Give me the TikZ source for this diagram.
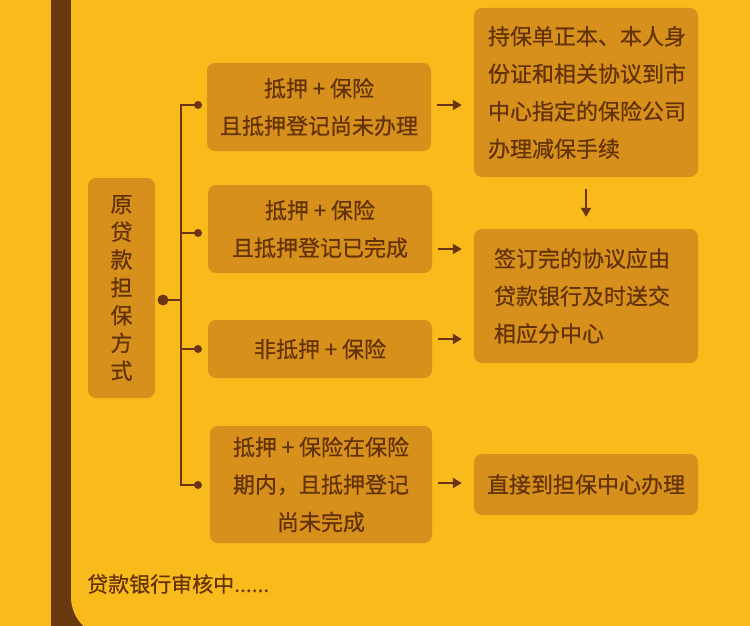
\documentclass[tikz,border=0pt]{standalone}
\usepackage{fontspec}
\setmainfont{Noto Sans CJK SC}[FakeBold=0.6]
\usetikzlibrary{arrows.meta}
\definecolor{bg}{HTML}{F9BA1B}
\definecolor{boxc}{HTML}{D6901B}
\definecolor{txt}{HTML}{633209}
\definecolor{bar}{HTML}{6A3912}
\definecolor{ln}{HTML}{6A3510}
\tikzset{
  box/.style={fill=boxc, rounded corners=8pt, text=txt, inner sep=0pt,
    font=\fontsize{22}{37.5}\selectfont, align=center},
  rbox/.style={box, align=left},
  vbox/.style={box, font=\fontsize{22}{27.8}\selectfont},
  conn/.style={draw=ln, line width=2pt},
  arr/.style={conn, -{Triangle[length=9pt,width=10pt]}},
  dotnode/.style={circle, fill=ln, inner sep=0pt, minimum size=8pt},
  bigdot/.style={circle, fill=ln, inner sep=0pt, minimum size=11pt},
}
\begin{document}
\begin{tikzpicture}[x=1pt,y=-1pt]
\useasboundingbox (0,0) rectangle (750,626);
\fill[bg] (0,0) rectangle (750,626);
\fill[bar] (51,0) rectangle (130,626);
\fill[bg, rounded corners=40pt] (71,-60) rectangle (800,637);

% left box
\node[vbox, minimum width=67pt, minimum height=220pt] (src) at (121.5,288) {原\\贷\\款\\担\\保\\方\\式};

% middle boxes
\node[box, minimum width=224pt, minimum height=88pt] (b1) at (319,107) {抵押 + 保险\\且抵押登记尚未办理};
\node[box, minimum width=224pt, minimum height=88pt] (b2) at (320,229) {抵押 + 保险\\且抵押登记已完成};
\node[box, minimum width=224pt, minimum height=58pt] (b3) at (320,349) {非抵押 + 保险};
\node[box, minimum width=222pt, minimum height=117pt] (b4) at (321,484.5) {抵押 + 保险在保险\\期内，且抵押登记\\尚未完成};

% right boxes
\node[rbox, text width=196pt, inner xsep=14pt, minimum height=169pt] (rA) at (586,92.5) {持保单正本、本人身\\份证和相关协议到市\\中心指定的保险公司\\办理减保手续};
\node[rbox, text width=184pt, inner xsep=20pt, minimum height=134pt] (rB) at (586,296) {签订完的协议应由\\贷款银行及时送交\\相应分中心};
\node[box, minimum width=224pt, minimum height=61pt] (rC) at (586,484.5) {直接到担保中心办理};

% tree
\node[bigdot] (root) at (163,300) {};
\coordinate (jn) at (181,300);
\node[dotnode] (d1) at (198,105) {};
\node[dotnode] (d2) at (198,233) {};
\node[dotnode] (d3) at (198,349) {};
\node[dotnode] (d4) at (198,485) {};
\draw[conn] (root.center) -- (jn);
\draw[conn] (d1.center) -| (jn |- d4) -- (d4.center);
\draw[conn] (d2.center) -- (jn |- d2);
\draw[conn] (d3.center) -- (jn |- d3);

% arrows
\draw[arr, shorten <=6pt, shorten >=12pt] (b1.east |- 0,105) -- (rA.west |- 0,105);
\draw[arr, shorten <=6pt, shorten >=12pt] (b2.east |- 0,249) -- (rB.west |- 0,249);
\draw[arr, shorten <=6pt, shorten >=12pt] (b3.east |- 0,339) -- (rB.west |- 0,339);
\draw[arr, shorten <=6pt, shorten >=12pt] (b4.east |- 0,483) -- (rC.west |- 0,483);
\draw[arr, shorten <=12pt, shorten >=12pt] (rA.south) -- (rB.north);

% footer
\node[anchor=west, text=txt, inner sep=0pt, font=\fontsize{21}{25}\selectfont] (foot) at (87,584) {贷款银行审核中......};
\end{tikzpicture}
\end{document}
